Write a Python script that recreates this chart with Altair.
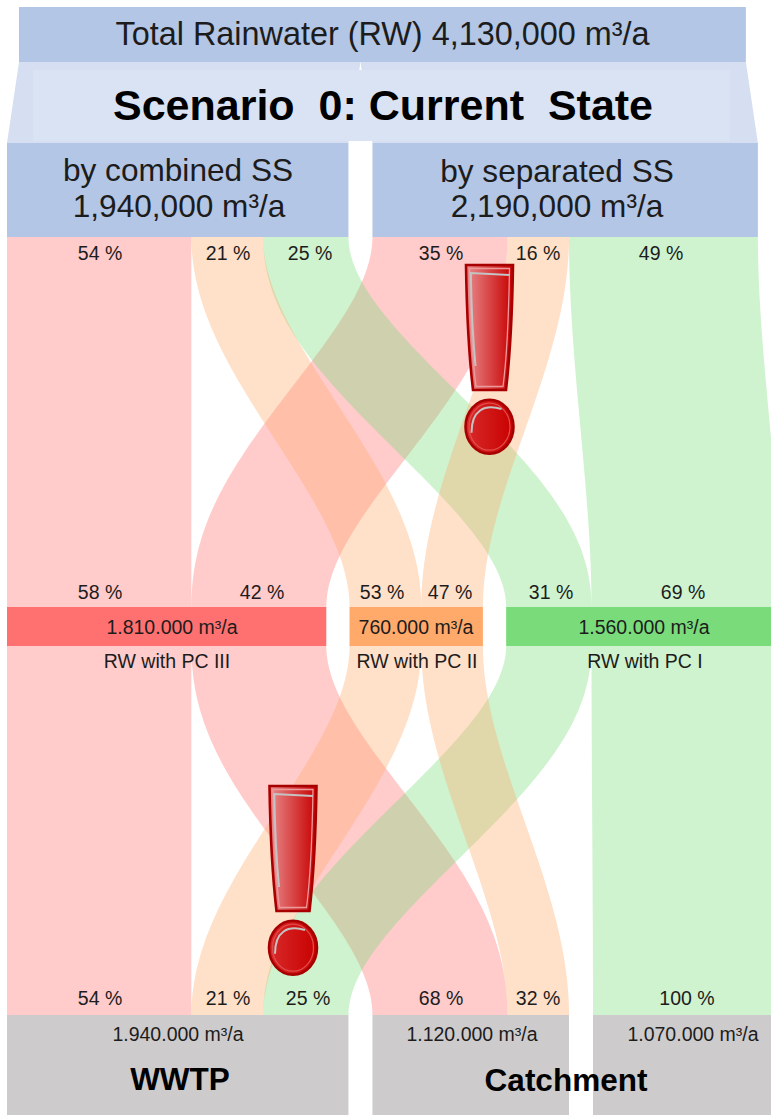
import altair as alt
import numpy as np
import pandas as pd

# Annual rainwater volumes, thousand m³/a
source_names = ["by combined SS", "by separated SS"]
source_totals = [1940, 2190]
total_rainwater = 4130
class_names = ["RW with PC III", "RW with PC II", "RW with PC I"]
class_totals = [1810, 760, 1560]
class_colors = ["#FF7070", "#FFA96A", "#7ADB7A"]

# Share of each source going to each pollution class, percent
combined_shares = [54, 21, 25]
separated_shares = [35, 16, 49]
# Share of each class coming from the combined / separated source
class_source_shares = [[58, 42], [53, 47], [31, 69]]
# Share of each class reaching the WWTP / the catchment
wwtp_shares = [54, 21, 25]
catchment_shares = [68, 32]
catchment_direct_share = [100]
sink_totals = [1940, 1120, 1070]

# Layout: drawing scale and vertical levels of the diagram
PX_PER_UNIT = 0.176
LEFT_PX = 7
GAP = 24 / PX_PER_UNIT
W, H = 771, 1115


def units(px):
    return (px - LEFT_PX) / PX_PER_UNIT


# Horizontal extents of the source boxes
src_x = [0.0, source_totals[0] + GAP]
src_flows = [
    [source_totals[0] * s / 100 for s in combined_shares],
    [source_totals[1] * s / 100 for s in separated_shares],
]

# Class nodes are as wide as the sum of what flows into them
class_widths = [src_flows[0][i] + src_flows[1][i] for i in range(3)]
class_x = [0.0]
for w in class_widths[:-1]:
    class_x.append(class_x[-1] + w + GAP - 1.5 / PX_PER_UNIT / 2)

# Sink nodes: WWTP takes the combined part, catchment the separated part
sink_widths = [
    sum(src_flows[0]),
    src_flows[1][0] + src_flows[1][1],
    src_flows[1][2],
]
sink_x = [0.0, sink_widths[0] + GAP, sink_widths[0] + sink_widths[1] + 2 * GAP]

Y_TOTAL = (7, 62)
Y_SOURCE = (143, 237)
Y_CLASS = (607, 646)
Y_SINK = (1015, 1115)


def ribbon(x0_a, x0_b, width, y_a, y_b):
    """Sankey band along an S-curve, keeping its thickness across the slope."""
    s = np.linspace(0, 1, 80)
    span_x = (x0_b - x0_a) * PX_PER_UNIT
    span_y = y_b - y_a
    slope = 6 * s * (1 - s) * span_x / span_y
    stretch = np.sqrt(1 + slope**2)
    mid = x0_a + width / 2 + (x0_b - x0_a) * (3 * s**2 - 2 * s**3)
    return pd.DataFrame({
        "y": y_a + s * span_y,
        "x": mid - width / 2 * stretch,
        "x2": mid + width / 2 * stretch,
    })


upper, lower = [], []
a = src_x[0]
b = src_x[1]
for c in range(3):
    # upper half: sources to classes
    left = class_x[c]
    upper.append((c, ribbon(a, left, src_flows[0][c], Y_SOURCE[1], Y_CLASS[0])))
    upper.append((c, ribbon(b, left + src_flows[0][c], src_flows[1][c], Y_SOURCE[1], Y_CLASS[0])))
    a += src_flows[0][c]
    b += src_flows[1][c]

    # lower half: classes to sinks
    lower.append((c, ribbon(left, sink_x[0] + sum(src_flows[0][:c]), src_flows[0][c], Y_CLASS[1], Y_SINK[0])))
    target = sink_x[1] + sum(src_flows[1][:c]) if c < 2 else sink_x[2]
    lower.append((c, ribbon(left + src_flows[0][c], target, src_flows[1][c], Y_CLASS[1], Y_SINK[0])))

x_scale = alt.Scale(domain=[units(0), units(W)], nice=False, zero=False)
y_scale = alt.Scale(domain=[0, H], reverse=True, nice=False, zero=False)
X = alt.X("x:Q", scale=x_scale, axis=None)
Y = alt.Y("y:Q", scale=y_scale, axis=None)


def box(x, x2, y, y2, color, opacity=1.0):
    df = pd.DataFrame({"x": [x], "x2": [x2], "y": [y], "y2": [y2]})
    return alt.Chart(df).mark_rect(color=color, opacity=opacity, clip=True).encode(
        x=X, x2="x2:Q", y=Y, y2="y2:Q"
    )


def band(df, color, opacity=0.36):
    return alt.Chart(df).mark_area(
        color=color, opacity=opacity, orient="horizontal", clip=True
    ).encode(x=X, x2="x2:Q", y=Y)


layers = []

# Pale funnel from the total down to the two source boxes
total_left = (src_x[1] + source_totals[1] - total_rainwater) / 2
split = total_left + source_totals[0]
for (xa, w, xb) in [(total_left, source_totals[0], src_x[0]), (split, source_totals[1], src_x[1])]:
    funnel = pd.DataFrame({
        "y": [Y_TOTAL[1], Y_SOURCE[0]],
        "x": [xa, xb],
        "x2": [xa + w, xb + w],
    })
    layers.append(band(funnel, "#D5DFF1", 1.0))
layers.append(box(units(33), units(730), 70, 141, "#DAE3F3"))

# Ribbons: red first, then green, with orange on top
for half in (upper, lower):
    for c in (0, 2, 1):
        for cc, df in half:
            if cc == c:
                layers.append(band(df, class_colors[c]))

# Boxes
BLUE = "#B3C6E5"
GREY = "#CDCBCC"
layers.append(box(total_left, total_left + total_rainwater, Y_TOTAL[0], Y_TOTAL[1], BLUE))
for i in range(2):
    layers.append(box(src_x[i], src_x[i] + source_totals[i], Y_SOURCE[0], Y_SOURCE[1], BLUE))
for c in range(3):
    layers.append(box(class_x[c], class_x[c] + class_widths[c], Y_CLASS[0], Y_CLASS[1], class_colors[c]))
for i in range(3):
    layers.append(box(sink_x[i], sink_x[i] + sink_widths[i], Y_SINK[0], Y_SINK[1], GREY))


# Warning signs: an exclamation mark built from custom symbol paths
BAR = "M-.235 -.95L.235 -.95C.225 -.3 .2 0 .165 .3L-.165 .3C-.2 0 -.225 -.3 -.235 -.95Z"
BAR_RIM = "M-.2 -.915L.2 -.915C.19 -.3 .17 0 .135 .265L-.135 .265C-.17 0 -.19 -.3 -.2 -.915Z"
BALL = "M-.24 .667A.24 .27 0 1 1 .24 .667A.24 .27 0 1 1 -.24 .667Z"
BALL_RIM = "M-.205 .667A.205 .235 0 1 1 .205 .667A.205 .235 0 1 1 -.205 .667Z"
BAR_SHINE = "M.2 -.85L-.187 -.87C-.18 -.4 -.165 -.2 -.14 .06"
BALL_SHINE = "M-.18 .727C-.18 .5 -.05 .44 .12 .49"
signs = pd.DataFrame({"x": [units(489.5), units(293)], "y": [360, 881]})
SIZE = 200**2


def grad(left, right):
    return alt.LinearGradient(
        gradient="linear", x1=0, x2=1, y1=0, y2=0,
        stops=[alt.GradientStop(color=left, offset=0), alt.GradientStop(color=right, offset=1)],
    )


def sign_part(shape, **style):
    return alt.Chart(signs).mark_point(shape=shape, size=SIZE, opacity=1, **style).encode(x=X, y=Y)


layers += [
    sign_part(BAR, filled=True, fill=grad("#E88A8C", "#C80000"), stroke="#A80000", strokeWidth=2.6),
    sign_part(BALL, filled=True, fill=grad("#D82A2A", "#C80000"), stroke="#A80000", strokeWidth=2.6),
    sign_part(BAR_RIM, filled=False, stroke="#EC9A9C", strokeWidth=1.3),
    sign_part(BALL_RIM, filled=False, stroke="#E04C4C", strokeWidth=1.3),
    sign_part(BAR_SHINE, filled=False, stroke="#C4C4C4", strokeWidth=2),
    sign_part(BALL_SHINE, filled=False, stroke="#C4C4C4", strokeWidth=2),
]


# Texts
def text_layer(rows, size, bold=False, color="#1C1C1C"):
    df = pd.DataFrame(rows, columns=["label", "x", "y"])
    return alt.Chart(df).mark_text(
        font="Liberation Sans", fontSize=size, fontWeight="bold" if bold else "normal",
        color=color, align="center", baseline="middle",
    ).encode(x=X, y=Y, text="label:N")


def thousands(v, sep):
    return f"{v * 1000:,}".replace(",", sep) + " m³/a"


layers.append(text_layer([
    [f"Total Rainwater (RW) {thousands(total_rainwater, ',')}", units(382.5), 34.5],
], 32.4))
layers.append(text_layer([
    [source_names[0], units(178), 172],
    [thousands(source_totals[0], ","), units(179), 208],
    [source_names[1], units(557), 173],
    [thousands(source_totals[1], ","), units(557), 208],
], 31.6))
layers.append(text_layer([["Scenario\u00a0\u00a00: Current\u00a0\u00a0State", units(383), 107]], 43, bold=True, color="#000000"))
layers.append(text_layer([["WWTP", units(180), 1081], ["Catchment", units(566), 1082]], 31.5, bold=True, color="#000000"))


def pct(value):
    return f"{value} %"


percent_rows = []
for value, px in zip(combined_shares + separated_shares, [100, 228, 310, 441, 538, 661]):
    percent_rows.append([pct(value), units(px), 253.5])
flat = [v for pair in class_source_shares for v in pair]
for value, px in zip(flat, [100, 262, 382, 450, 551, 683]):
    percent_rows.append([pct(value), units(px), 593])
for value, px in zip(wwtp_shares + catchment_shares + catchment_direct_share, [100, 228, 308, 441, 538, 687]):
    percent_rows.append([pct(value), units(px), 999])
layers.append(text_layer(percent_rows, 19.5))

layers.append(text_layer([
    [thousands(v, "."), units(px), 628] for v, px in zip(class_totals, [172, 416, 644])
], 19.5))
layers.append(text_layer([
    [n, units(px), 662] for n, px in zip(class_names, [167, 417, 645])
], 19.5))
layers.append(text_layer([
    [thousands(v, "."), units(px), 1035] for v, px in zip(sink_totals, [178, 472, 693])
], 19.5))

chart = alt.layer(*layers).properties(
    width=W, height=H, padding=0, autosize=alt.AutoSizeParams(type="none"), background="white"
).configure_view(stroke=None)

chart.save("out.html", embed_options={"renderer": "svg", "actions": False})
